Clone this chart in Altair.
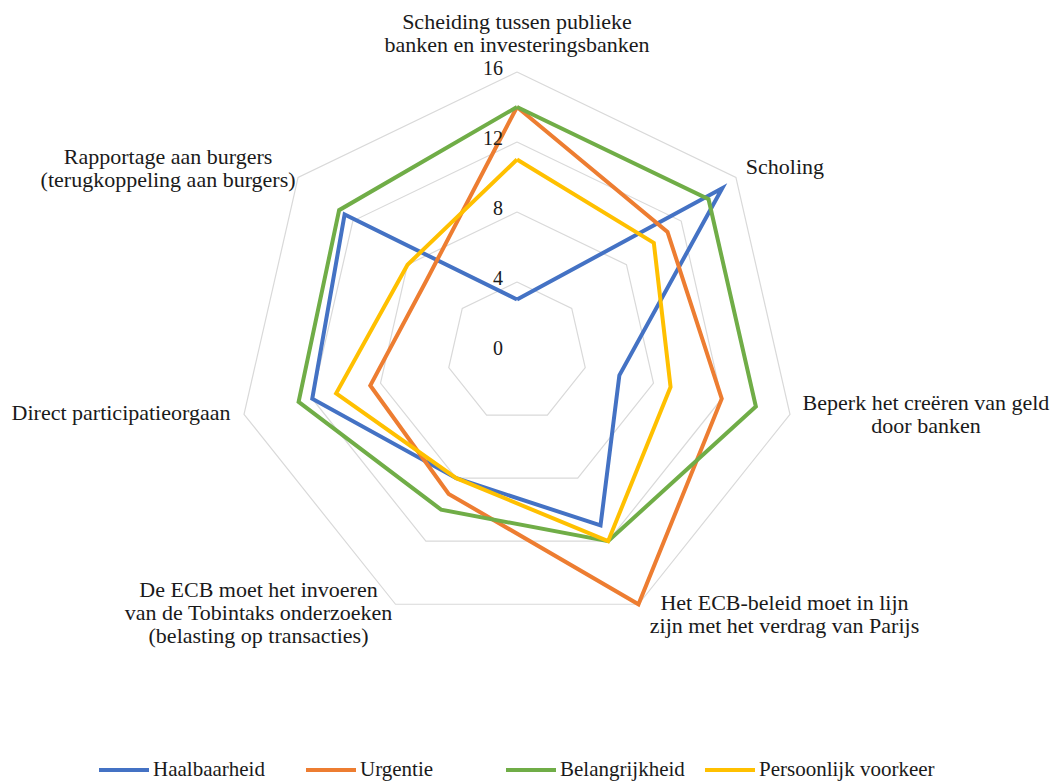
import math
import altair as alt
import pandas as pd

# ---------------- data ----------------
categories = [
    "Scheiding tussen publieke banken en investeringsbanken",
    "Scholing",
    "Beperk het creëren van geld door banken",
    "Het ECB-beleid moet in lijn zijn met het verdrag van Parijs",
    "De ECB moet het invoeren van de Tobintaks onderzoeken (belasting op transacties)",
    "Direct participatieorgaan",
    "Rapportage aan burgers (terugkoppeling aan burgers)",
]
category_lines = [
    ["Scheiding tussen publieke", "banken en investeringsbanken"],
    ["Scholing"],
    ["Beperk het creëren van geld", "door banken"],
    ["Het ECB-beleid moet in lijn", "zijn met het verdrag van Parijs"],
    ["De ECB moet het invoeren", "van de Tobintaks onderzoeken", "(belasting op transacties)"],
    ["Direct participatieorgaan"],
    ["Rapportage aan burgers", "(terugkoppeling aan burgers)"],
]
series_names = ["Haalbaarheid", "Urgentie", "Belangrijkheid", "Persoonlijk voorkeer"]
haalbaarheid = [3, 15, 6, 11, 8, 12, 12.6]
urgentie = [14, 11, 12, 16, 9, 8.6, 6.6]
belangrijkheid = [14, 14, 14, 12, 10, 12.8, 13]
persoonlijk = [11, 10, 9, 12, 8, 10.6, 8]
ring_ticks = [4, 8, 12, 16]
tick_labels = [0, 4, 8, 12, 16]

# ---------------- style / layout ----------------
colors = ["#4472C4", "#ED7D31", "#70AD47", "#FFC000"]
FONT = "Liberation Serif"
TEXT_COLOR = "#1a1a1a"
PX = 17.5            # pixels per data unit
W, H = 1042, 774
CX, CY = 509, 344    # centre of the radar in chart pixels
# label offsets (pixels) of the first text line from the outer vertex of each spoke
label_dx = [0, 49, 136, 146, -137, -123, -130]
label_dy = [-50, -10, -11, -1, -14, -1, -20]
# extra trailing padding (non-breaking spaces) per legend entry, to mimic even spacing
legend_pad = {"Haalbaarheid": 4, "Urgentie": 10}

n = len(categories)
rmax = max(ring_ticks)

rows = []
for s, vals in zip(series_names, [haalbaarheid, urgentie, belangrijkheid, persoonlijk]):
    for i in range(n + 1):
        k = i % n
        rows.append({"series": s, "order": i, "value": vals[k], "angle": 2 * math.pi * k / n})
df_series = pd.DataFrame(rows)

grid_rows = []
for t in ring_ticks:
    for i in range(n + 1):
        k = i % n
        grid_rows.append({"ring": t, "order": i, "value": t, "angle": 2 * math.pi * k / n})
df_grid = pd.DataFrame(grid_rows)

df_labels = pd.DataFrame({
    "text": category_lines,
    "angle": [2 * math.pi * k / n for k in range(n)],
    "value": [rmax] * n,
    "dx": label_dx,
    "dy": label_dy,
})

df_ticks = pd.DataFrame({"tick": tick_labels, "label": [str(t) for t in tick_labels]})

xs = alt.Scale(domain=[-CX / PX, (W - CX) / PX], nice=False, zero=False)
ys = alt.Scale(domain=[-(H - CY) / PX, CY / PX], nice=False, zero=False)

calc_x = "datum.value * sin(datum.angle)"
calc_y = "datum.value * cos(datum.angle)"

label_expr = "datum.label"
for name, cnt in legend_pad.items():
    pad = chr(160) * cnt + chr(0x200B)
    label_expr = f"datum.label == '{name}' ? datum.label + '{pad}' : (" + label_expr + ")"

grid = alt.Chart(df_grid).transform_calculate(px=calc_x, py=calc_y).mark_line(
    stroke="#D9D9D9", strokeWidth=1.2
).encode(
    x=alt.X("px:Q", scale=xs, axis=None),
    y=alt.Y("py:Q", scale=ys, axis=None),
    detail="ring:N",
    order="order:Q",
)

lines = alt.Chart(df_series).transform_calculate(px=calc_x, py=calc_y).mark_line(
    strokeWidth=4
).encode(
    x=alt.X("px:Q", scale=xs, axis=None),
    y=alt.Y("py:Q", scale=ys, axis=None),
    color=alt.Color(
        "series:N",
        scale=alt.Scale(domain=series_names, range=colors),
        sort=series_names,
        legend=alt.Legend(
            title=None,
            orient="none",
            legendX=89,
            legendY=735,
            direction="horizontal",
            symbolType="stroke",
            symbolStrokeWidth=4,
            symbolSize=2500,
            labelFont=FONT,
            labelFontSize=21,
            labelColor=TEXT_COLOR,
            labelOffset=2,
            labelLimit=400,
            columnPadding=12,
            labelExpr=label_expr,
        ),
    ),
    order="order:Q",
)

labels = alt.Chart(df_labels).transform_calculate(
    px=f"datum.value * sin(datum.angle) + datum.dx / {PX}",
    py=f"datum.value * cos(datum.angle) - datum.dy / {PX}",
).mark_text(
    font=FONT, fontSize=22, color=TEXT_COLOR, align="center", baseline="middle", lineHeight=23
).encode(
    x=alt.X("px:Q", scale=xs, axis=None),
    y=alt.Y("py:Q", scale=ys, axis=None),
    text="text",
)

ticks = alt.Chart(df_ticks).transform_calculate(px="0", py="datum.tick").mark_text(
    font=FONT, fontSize=20, color=TEXT_COLOR, align="right", baseline="middle", dx=-14, dy=-3
).encode(
    x=alt.X("px:Q", scale=xs, axis=None),
    y=alt.Y("py:Q", scale=ys, axis=None),
    text="label:N",
)

chart = alt.layer(grid, lines, labels, ticks).properties(
    width=W, height=H, padding=0, autosize=alt.AutoSizeParams(type="none")
).configure_view(stroke=None)

chart.save("out.html", embed_options={"renderer": "svg", "actions": False})
